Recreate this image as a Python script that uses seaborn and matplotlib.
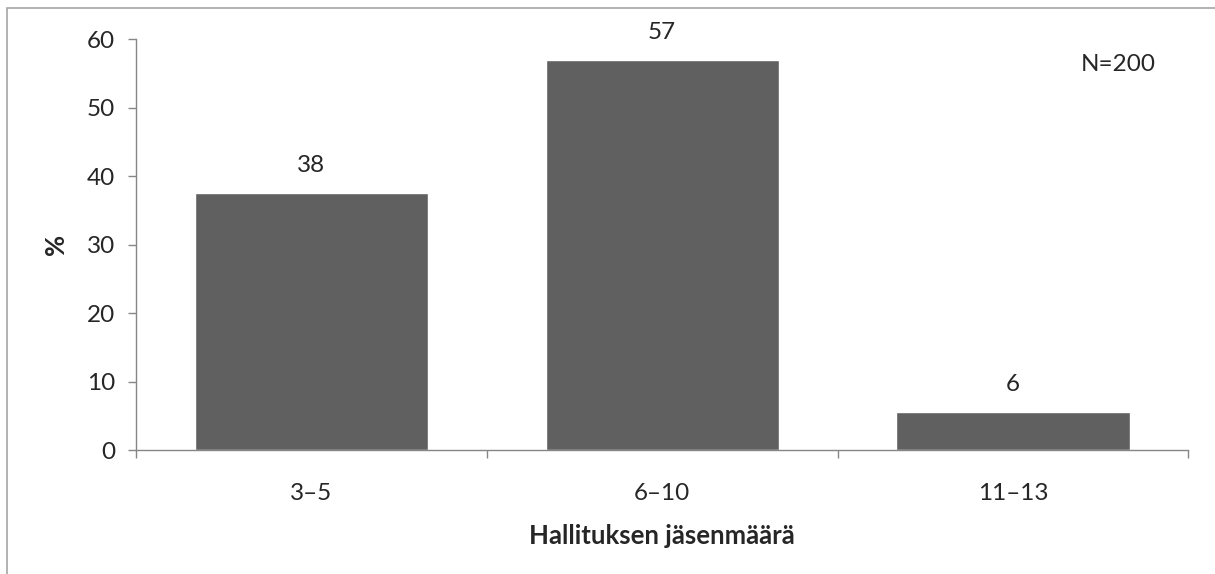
import matplotlib
matplotlib.use("Agg")
import matplotlib.pyplot as plt
import seaborn as sns
import pandas as pd
from matplotlib.patches import Rectangle

# DONNEES
categories = ["3–5", "6–10", "11–13"]
valeurs = [37.5, 57.0, 5.5]
etiquettes = ["38", "57", "6"]
y_ticks = [0, 10, 20, 30, 40, 50, 60]

df = pd.DataFrame({"groupe": categories, "pct": valeurs})

sns.set_style("white")
plt.rcParams["font.family"] = ["Lato", "DejaVu Sans"]

fig = plt.figure(figsize=(12.15, 5.74), dpi=100)
ax = fig.add_axes([0.112, 0.216, 0.866, 0.716])

sns.barplot(data=df, x="groupe", y="pct", color="#606060", saturation=1,
            width=0.665, ax=ax)

# etiquettes au dessus des barres
for i, (v, lab) in enumerate(zip(valeurs, etiquettes)):
    ax.text(i, v + 4.0, lab, ha="center", va="center", fontsize=17.5)

ax.set_xlim(-0.5, 2.5)
ax.set_ylim(0, 60)
ax.set_yticks(y_ticks)
ax.tick_params(axis="y", labelsize=17.5, length=6, width=1, color="#868686",
               left=True, pad=9)

# ticks x aux limites des categories
ax.set_xticks([-0.5, 0.5, 1.5, 2.5], minor=True)
ax.tick_params(axis="x", which="minor", length=6, width=1, color="#868686", bottom=True)
ax.tick_params(axis="x", which="major", length=0, labelsize=17.5, pad=24)

for s in ["top", "right"]:
    ax.spines[s].set_visible(False)
for s in ["left", "bottom"]:
    ax.spines[s].set_color("#868686")
    ax.spines[s].set_linewidth(1)

ax.set_xlabel("Hallituksen jäsenmäärä", fontsize=18.5, fontweight="bold", labelpad=14)
ax.set_ylabel("%", fontsize=18.5, fontweight="bold", labelpad=14)

ax.text(0.933, 0.937, "N=200", transform=ax.transAxes, ha="center", va="center",
        fontsize=17.5)

# cadre autour du graphique
fig.add_artist(Rectangle((7 / 1215, -0.1), 1.2, 0.1 + 1 - 8 / 574,
                         transform=fig.transFigure, fill=False,
                         edgecolor="#a6a6a6", linewidth=1.2))

fig.savefig("out.png", dpi=100)
plt.close()
